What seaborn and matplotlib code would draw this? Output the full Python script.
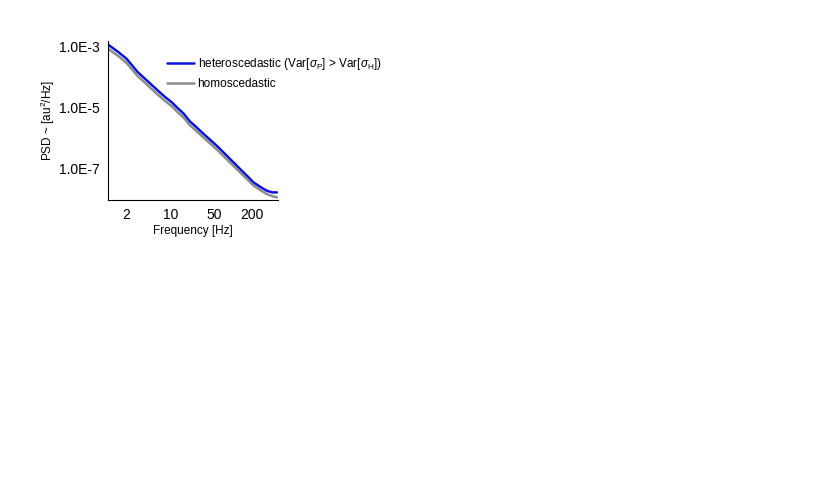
import matplotlib
matplotlib.use("Agg")
import matplotlib.pyplot as plt
import seaborn as sns
import pandas as pd

# values (Hz, au^2/Hz)
freq = [1.0, 1.5, 2.0, 3.0, 4.5, 6.2, 8.0, 10.6, 13.0, 16.3, 20.0, 24.9, 35, 55, 80, 114, 160, 210, 280, 344, 420, 495]
psd_hetero = [1.2e-3, 6.5e-4, 4.0e-4, 1.46e-4, 6.8e-5, 3.7e-5, 2.3e-5, 1.45e-5, 9.5e-6, 6.2e-6, 3.6e-6, 2.4e-6,
              1.25e-6, 5.4e-7, 2.5e-7, 1.2e-7, 6.0e-8, 3.4e-8, 2.3e-8, 1.8e-8, 1.6e-8, 1.6e-8]
psd_homo = [8.8e-4, 4.8e-4, 2.9e-4, 1.08e-4, 5.0e-5, 2.7e-5, 1.7e-5, 1.08e-5, 7.0e-6, 4.6e-6, 2.7e-6, 1.8e-6,
            9.5e-7, 4.1e-7, 1.9e-7, 9.3e-8, 4.7e-8, 2.7e-8, 1.8e-8, 1.4e-8, 1.2e-8, 1.1e-8]

labels = [r"heteroscedastic (Var[$\sigma_{\rm P}$] > Var[$\sigma_{\rm H}$])", "homoscedastic"]
xticks = [2, 10, 50, 200]
yticks = [1e-3, 1e-5, 1e-7]

df = pd.concat([
    pd.DataFrame({"f": freq, "psd": psd_hetero, "model": labels[0]}),
    pd.DataFrame({"f": freq, "psd": psd_homo, "model": labels[1]}),
])

sns.set_style("white")
plt.rcParams["font.family"] = ["Liberation Sans", "DejaVu Sans"]
plt.rcParams["mathtext.fontset"] = "custom"
plt.rcParams["mathtext.rm"] = "Liberation Sans"
plt.rcParams["mathtext.it"] = "Liberation Sans:italic"
plt.rcParams["text.color"] = "black"
plt.rcParams["axes.labelcolor"] = "black"
plt.rcParams["xtick.color"] = "black"
plt.rcParams["ytick.color"] = "black"

fig = plt.figure(figsize=(8.29, 4.83), dpi=100)
ax = fig.add_axes([0.130, 0.586, 0.205, 0.33])
sns.lineplot(data=df, x="f", y="psd", hue="model", hue_order=labels,
             palette=["#0a14d8", "#8c8c8c"], linewidth=1.8, ax=ax)

ax.set_xscale("log")
ax.set_yscale("log")
ax.set_xlim(1.0, 510)
ax.set_ylim(9e-9, 1.6e-3)
ax.set_xticks(xticks)
ax.set_xticklabels([str(t) for t in xticks])
ax.set_yticks(yticks)
ax.set_yticklabels(["1.0E-3", "1.0E-5", "1.0E-7"])
ax.minorticks_off()
ax.tick_params(length=0, labelsize=10, pad=6)
ax.set_xlabel("Frequency [Hz]", fontsize=8.5, labelpad=2)
ax.set_ylabel(r"PSD ~ [au$^2$/Hz]", fontsize=8.5, labelpad=1)
for s in ["top", "right"]:
    ax.spines[s].set_visible(False)
for s in ["left", "bottom"]:
    ax.spines[s].set_color("black")
    ax.spines[s].set_linewidth(0.8)

ax.legend(title=None, frameon=False, fontsize=8.5, loc="upper left",
          bbox_to_anchor=(0.32, 0.93), handlelength=2.3, handletextpad=0.3,
          labelspacing=0.45, borderaxespad=0)

fig.savefig("out.png", dpi=100)
